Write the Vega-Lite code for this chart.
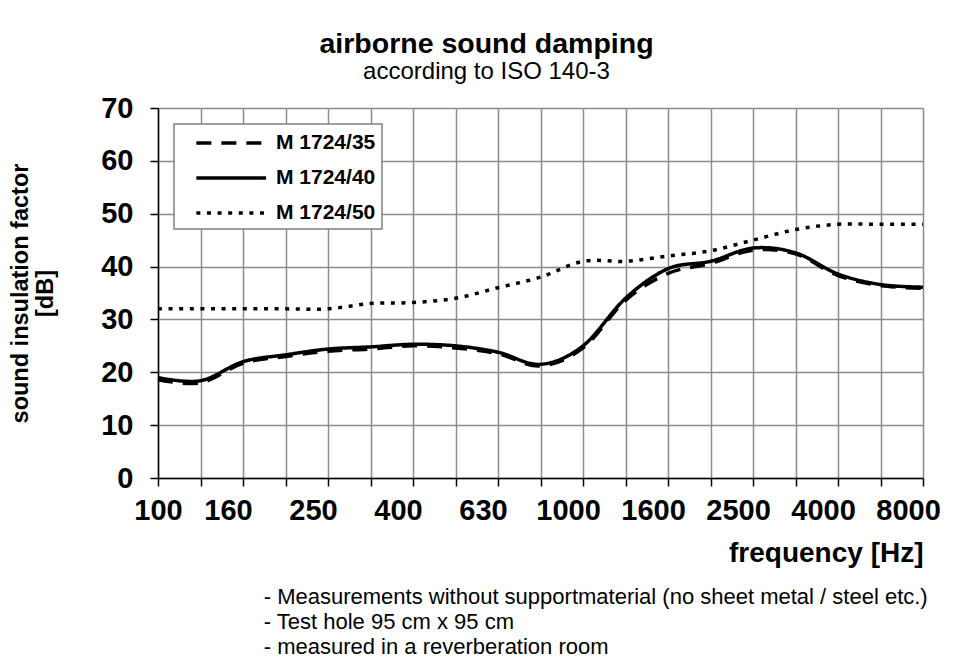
{
  "$schema": "https://vega.github.io/schema/vega-lite/v6.json",
  "background": "white",
  "padding": {"left": 8, "top": 29, "right": 5, "bottom": 0},
  "title": {
    "text": "airborne sound damping",
    "subtitle": "according to ISO 140-3",
    "font": "Liberation Sans",
    "subtitleFont": "Liberation Sans",
    "fontSize": 28.5,
    "fontWeight": "bold",
    "subtitleFontSize": 24,
    "color": "black",
    "subtitleColor": "black",
    "anchor": "middle",
    "offset": 10,
    "subtitlePadding": 2,
    "dx": 12
  },
  "config": {
    "view": {"stroke": null},
    "font": "Liberation Sans",
    "axis": {
      "labelFont": "Liberation Sans",
      "labelFontWeight": "bold",
      "labelFontSize": 29,
      "labelColor": "black",
      "titleFont": "Liberation Sans",
      "titleFontWeight": "bold",
      "titleColor": "black",
      "gridColor": "#8c8c8c",
      "gridWidth": 1.5,
      "gridOpacity": 1,
      "domainColor": "black",
      "domainWidth": 1.5,
      "tickColor": "black",
      "tickWidth": 1.5,
      "tickSize": 8
    },
    "legend": {
      "orient": "top-left",
      "offset": 16,
      "fillColor": "white",
      "strokeColor": "#808080",
      "strokeWidth": 1.5,
      "padding": 6,
      "labelFont": "Liberation Sans",
      "labelFontSize": 21,
      "labelFontWeight": "bold",
      "labelColor": "black",
      "symbolType": "M0.3,0H6.5",
      "symbolSize": 506,
      "symbolStrokeWidth": 3.5,
      "symbolStrokeColor": "black",
      "symbolFillColor": "transparent",
      "rowPadding": 12,
      "labelOffset": 70
    }
  },
  "vconcat": [
    {
      "width": 765,
      "height": 370,
      "title": {
        "text": [
          "- Measurements without supportmaterial (no sheet metal / steel etc.)",
          "- Test hole 95 cm x 95 cm",
          "- measured in a reverberation room"
        ],
        "orient": "bottom",
        "anchor": "start",
        "dx": 255,
        "font": "Liberation Sans",
        "fontSize": 22,
        "fontWeight": "normal",
        "lineHeight": 25,
        "offset": 20,
        "color": "black"
      },
      "data": {
        "values": [
          {"freq": "100", "series": "M 1724/35", "dB": 18.6},
          {"freq": "125", "series": "M 1724/35", "dB": 18.0},
          {"freq": "160", "series": "M 1724/35", "dB": 21.7},
          {"freq": "200", "series": "M 1724/35", "dB": 23.0},
          {"freq": "250", "series": "M 1724/35", "dB": 24.0},
          {"freq": "315", "series": "M 1724/35", "dB": 24.4},
          {"freq": "400", "series": "M 1724/35", "dB": 25.0},
          {"freq": "500", "series": "M 1724/35", "dB": 24.6},
          {"freq": "630", "series": "M 1724/35", "dB": 23.5},
          {"freq": "800", "series": "M 1724/35", "dB": 21.2},
          {"freq": "1000", "series": "M 1724/35", "dB": 24.6},
          {"freq": "1250", "series": "M 1724/35", "dB": 33.6},
          {"freq": "1600", "series": "M 1724/35", "dB": 38.7},
          {"freq": "2000", "series": "M 1724/35", "dB": 40.6},
          {"freq": "2500", "series": "M 1724/35", "dB": 43.1},
          {"freq": "3150", "series": "M 1724/35", "dB": 42.4},
          {"freq": "4000", "series": "M 1724/35", "dB": 38.3},
          {"freq": "5000", "series": "M 1724/35", "dB": 36.4},
          {"freq": "8000", "series": "M 1724/35", "dB": 35.9},
          {"freq": "100", "series": "M 1724/40", "dB": 19.0},
          {"freq": "125", "series": "M 1724/40", "dB": 18.4},
          {"freq": "160", "series": "M 1724/40", "dB": 22.0},
          {"freq": "200", "series": "M 1724/40", "dB": 23.3},
          {"freq": "250", "series": "M 1724/40", "dB": 24.4},
          {"freq": "315", "series": "M 1724/40", "dB": 24.8},
          {"freq": "400", "series": "M 1724/40", "dB": 25.3},
          {"freq": "500", "series": "M 1724/40", "dB": 25.0},
          {"freq": "630", "series": "M 1724/40", "dB": 23.8},
          {"freq": "800", "series": "M 1724/40", "dB": 21.5},
          {"freq": "1000", "series": "M 1724/40", "dB": 25.0},
          {"freq": "1250", "series": "M 1724/40", "dB": 34.0},
          {"freq": "1600", "series": "M 1724/40", "dB": 39.6},
          {"freq": "2000", "series": "M 1724/40", "dB": 41.0},
          {"freq": "2500", "series": "M 1724/40", "dB": 43.5},
          {"freq": "3150", "series": "M 1724/40", "dB": 42.6},
          {"freq": "4000", "series": "M 1724/40", "dB": 38.6},
          {"freq": "5000", "series": "M 1724/40", "dB": 36.6},
          {"freq": "8000", "series": "M 1724/40", "dB": 36.1},
          {"freq": "100", "series": "M 1724/50", "dB": 32},
          {"freq": "125", "series": "M 1724/50", "dB": 32},
          {"freq": "160", "series": "M 1724/50", "dB": 32},
          {"freq": "200", "series": "M 1724/50", "dB": 32},
          {"freq": "250", "series": "M 1724/50", "dB": 32},
          {"freq": "315", "series": "M 1724/50", "dB": 33},
          {"freq": "400", "series": "M 1724/50", "dB": 33.2},
          {"freq": "500", "series": "M 1724/50", "dB": 34},
          {"freq": "630", "series": "M 1724/50", "dB": 36},
          {"freq": "800", "series": "M 1724/50", "dB": 38},
          {"freq": "1000", "series": "M 1724/50", "dB": 41},
          {"freq": "1250", "series": "M 1724/50", "dB": 41},
          {"freq": "1600", "series": "M 1724/50", "dB": 42},
          {"freq": "2000", "series": "M 1724/50", "dB": 43},
          {"freq": "2500", "series": "M 1724/50", "dB": 45},
          {"freq": "3150", "series": "M 1724/50", "dB": 47},
          {"freq": "4000", "series": "M 1724/50", "dB": 48},
          {"freq": "5000", "series": "M 1724/50", "dB": 48},
          {"freq": "8000", "series": "M 1724/50", "dB": 48}
        ]
      },
      "mark": {"type": "line", "interpolate": "cardinal", "strokeWidth": 3.5, "color": "black"},
      "encoding": {
        "x": {
          "field": "freq",
          "type": "ordinal",
          "scale": {
            "type": "point",
            "padding": 0,
            "domain": ["100","125","160","200","250","315","400","500","630","800","1000","1250","1600","2000","2500","3150","4000","5000","8000"]
          },
          "axis": {
            "title": "frequency [Hz]",
            "titleFontSize": 28,
            "titleAnchor": "end",
            "titlePadding": 14,
            "labelAngle": 0,
            "labelPadding": 10,
            "labelOverlap": false,
            "labelBound": false,
            "labelExpr": "indexof(['100','160','250','400','630','1000','1600','2500','4000','8000'], datum.label) >= 0 ? datum.label : ''",
            "labelOffset": {"condition": {"test": "datum.label == '100'", "value": 0}, "value": -15},
            "grid": true
          }
        },
        "y": {
          "field": "dB",
          "type": "quantitative",
          "scale": {"domain": [0, 70], "nice": false, "zero": true},
          "axis": {
            "title": ["sound insulation factor", "[dB]"],
            "titleFontSize": 23.5,
            "titleLineHeight": 25,
            "titlePadding": 43,
            "values": [0, 10, 20, 30, 40, 50, 60, 70],
            "labelPadding": 17,
            "grid": true
          }
        },
        "strokeDash": {
          "field": "series",
          "type": "nominal",
          "scale": {
            "domain": ["M 1724/35", "M 1724/40", "M 1724/50"],
            "range": [[15, 10], [1, 0], [4, 6.6]]
          },
          "legend": {"title": null}
        }
      }
    }
  ]
}
